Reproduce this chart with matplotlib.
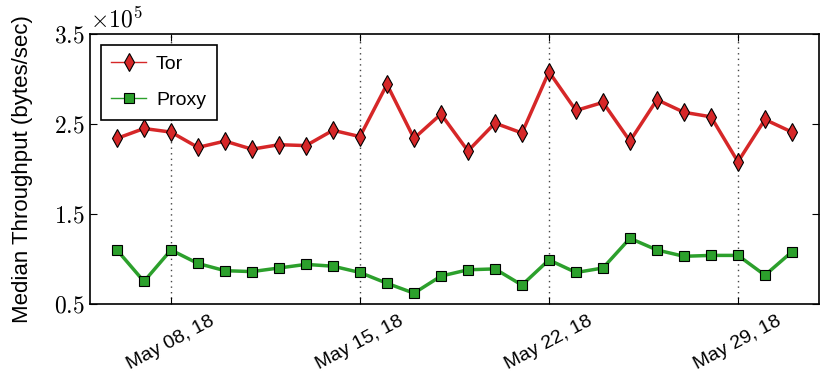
import numpy as np
import pandas as pd
import matplotlib
matplotlib.use("Agg")
import matplotlib.pyplot as plt
import matplotlib.dates as mdates
from matplotlib.ticker import FuncFormatter, FixedLocator

plt.rcParams['font.family'] = ['Liberation Sans', 'DejaVu Sans']
plt.rcParams['mathtext.fontset'] = 'cm'

# dados
dates = pd.date_range('2018-05-06', '2018-05-31', freq='D')
tor = [2.34, 2.45, 2.41, 2.24, 2.31, 2.22, 2.27, 2.26, 2.43, 2.36, 2.94, 2.34, 2.61,
       2.20, 2.51, 2.40, 3.08, 2.65, 2.74, 2.31, 2.77, 2.63, 2.58, 2.08, 2.55, 2.41]
proxy = [1.10, 0.75, 1.10, 0.95, 0.87, 0.86, 0.90, 0.94, 0.92, 0.85, 0.73, 0.62, 0.81,
         0.88, 0.89, 0.71, 0.99, 0.85, 0.90, 1.23, 1.10, 1.03, 1.04, 1.04, 0.82, 1.08]
tor = np.array(tor) * 1e5
proxy = np.array(proxy) * 1e5
yticks = [0.5e5, 1.5e5, 2.5e5, 3.5e5]
xticks = ['2018-05-08', '2018-05-15', '2018-05-22', '2018-05-29']

fig = plt.figure(figsize=(8.3, 3.82), dpi=100)
ax = fig.add_axes([0.1084, 0.2042, 0.8783, 0.7068])

ax.plot(dates, tor, color='#d62728', lw=2.5, marker='d', ms=9, mec='black', mew=0.8, label='Tor')
ax.plot(dates, proxy, color='#2ca02c', lw=2.5, marker='s', ms=7.5, mec='black', mew=0.8, label='Proxy')

ax.set_xlim(pd.Timestamp('2018-05-05'), pd.Timestamp('2018-06-01'))
ax.set_ylim(0.5e5, 3.5e5)
ax.xaxis.set_major_locator(FixedLocator(mdates.date2num(pd.to_datetime(xticks))))
ax.xaxis.set_major_formatter(mdates.DateFormatter('%b %d, %y'))
ax.yaxis.set_major_locator(FixedLocator(yticks))
ax.yaxis.set_major_formatter(FuncFormatter(lambda v, p: r'$%.1f$' % (v / 1e5)))
ax.text(0.0, 1.005, r'$\times10^5$', transform=ax.transAxes, fontsize=17, va='bottom', ha='left')

for lab in ax.get_xticklabels():
    lab.set_rotation(28)
    lab.set_ha('center')
    lab.set_fontsize(14)
for lab in ax.get_yticklabels():
    lab.set_fontsize(17)

ax.tick_params(direction='in', top=True, right=True, length=5, width=0.8)
ax.tick_params(axis='x', pad=6)
ax.grid(axis='x', ls=(0, (1, 3)), color='#444444', lw=1.0)
ax.set_ylabel('Median Throughput (bytes/sec)', fontsize=16)
ax.yaxis.set_label_coords(-0.078, 0.5)
for s in ax.spines.values():
    s.set_linewidth(1.2)

leg = ax.legend(loc='upper left', fontsize=14, fancybox=False, framealpha=1,
                edgecolor='black', borderpad=0.55, labelspacing=0.95, handlelength=1.8,
                handletextpad=0.5, borderaxespad=0.55)
leg.get_frame().set_linewidth(1.2)
for h in leg.get_lines():
    h.set_linewidth(1.0)

fig.savefig('out.png', dpi=100)
